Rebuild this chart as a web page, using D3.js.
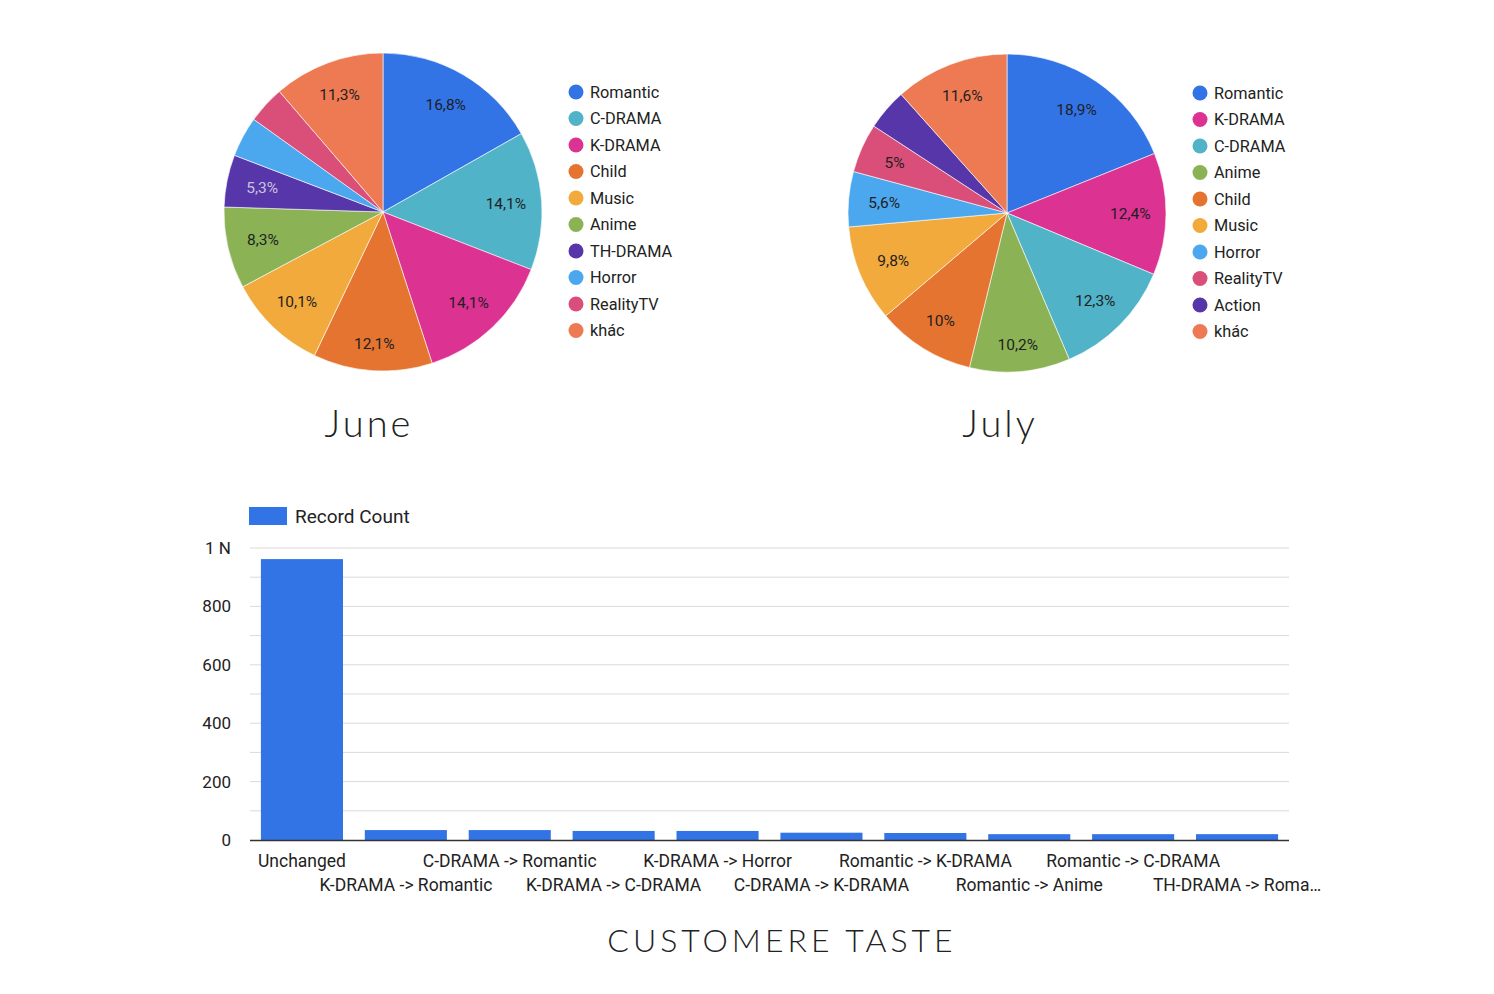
<!DOCTYPE html>
<html><head><meta charset="utf-8">
<script src="https://cdn.jsdelivr.net/npm/d3@7"></script>
<style>
body{margin:0;background:#fff;}
svg{display:block;font-family:Roboto,"Noto Sans",sans-serif;}
</style></head>
<body>
<svg id="c" width="1494" height="994"></svg>
<script>
// ---- Data ----
const juneCategories = ["Romantic","C-DRAMA","K-DRAMA","Child","Music","Anime","TH-DRAMA","Horror","RealityTV","khác"];
const juneValues     = [16.8, 14.1, 14.1, 12.1, 10.1, 8.3, 5.3, 4.1, 3.8, 11.3];
const julyCategories = ["Romantic","K-DRAMA","C-DRAMA","Anime","Child","Music","Horror","RealityTV","Action","khác"];
const julyValues     = [18.9, 12.4, 12.3, 10.2, 10, 9.8, 5.6, 5, 4.2, 11.6];
const changeCategories = ["Unchanged","K-DRAMA -> Romantic","C-DRAMA -> Romantic","K-DRAMA -> C-DRAMA","K-DRAMA -> Horror",
  "C-DRAMA -> K-DRAMA","Romantic -> K-DRAMA","Romantic -> Anime","Romantic -> C-DRAMA","TH-DRAMA -> Roma…"];
const changeValues = [962, 34, 34, 31, 31, 25, 24, 20, 20, 20];
const yTickValues = [0,100,200,300,400,500,600,700,800,900,1000];
const yTickLabels = {0:"0",200:"200",400:"400",600:"600",800:"800",1000:"1 N"};

const colorMap = {
  "Romantic":"#3273e6","C-DRAMA":"#50b3c7","K-DRAMA":"#dc3292","Child":"#e4742f","Music":"#f2aa3d",
  "Anime":"#8bb355","TH-DRAMA":"#5736a9","Action":"#5736a9","Horror":"#4ca8ee","RealityTV":"#d94f7a","khác":"#ee7a53"
};
const darkText = {"TH-DRAMA":true};

const svg = d3.select("#c");
const fmt = v => String(v).replace(".", ",") + "%";

function drawPie(cats, vals, cx, cy, r, legX, legY, title, titleX){
  const data = cats.map((c,i)=>({cat:c, value:vals[i]}));
  const pie = d3.pie().value(d=>d.value).sort(null);
  const arc = d3.arc().innerRadius(0).outerRadius(r);
  const g = svg.append("g").attr("transform",`translate(${cx},${cy})`);
  const arcs = pie(data);
  g.selectAll("path").data(arcs).join("path")
    .attr("d",arc).attr("fill",d=>colorMap[d.data.cat])
    .attr("stroke","#fff").attr("stroke-width",0.6);
  const labelPos = d => {
    const a = (d.startAngle + d.endAngle)/2;
    const c = Math.cos(a);
    const extra = c < 0 ? 9*Math.pow(-c,6) : 3*Math.pow(c,6);
    const rl = r*0.775 + extra;
    return [Math.sin(a)*rl, -Math.cos(a)*rl];
  };
  g.selectAll("text").data(arcs.filter(d=>d.data.value>=4.5)).join("text")
    .attr("transform",d=>`translate(${labelPos(d)})`)
    .attr("text-anchor","middle").attr("dy","0.35em")
    .attr("font-size",15.5)
    .attr("fill",d=>darkText[d.data.cat]?"#c9c4dd":"#1f1f1f")
    .text(d=>fmt(d.data.value));
  const lg = svg.append("g").attr("transform",`translate(${legX},${legY})`);
  const items = lg.selectAll("g").data(data).join("g")
    .attr("transform",(d,i)=>`translate(0,${i*26.5})`);
  items.append("circle").attr("r",7.5).attr("cx",0).attr("cy",0).attr("fill",d=>colorMap[d.cat]);
  items.append("text").attr("x",14).attr("dy","0.36em").attr("font-size",16.3).attr("fill","#222").text(d=>d.cat);
  svg.append("text").attr("x",titleX).attr("y",437).attr("text-anchor","middle")
    .attr("font-family","Lato,'Open Sans',sans-serif").attr("font-weight",300)
    .attr("font-size",38).attr("letter-spacing",3).attr("fill","#222").text(title);
}
drawPie(juneCategories, juneValues, 383, 212, 159, 576, 92, "June", 369);
drawPie(julyCategories, julyValues, 1007, 213, 159, 1200, 93, "July", 1000);

// ---- Bar chart ----
const x = d3.scaleBand().domain(changeCategories).range([250,1289]).paddingInner(0.21).paddingOuter(0.105);
const y = d3.scaleLinear().domain([0,1000]).range([840,548]);

const grid = svg.append("g");
grid.selectAll("line").data(yTickValues.filter(v=>v>0)).join("line")
  .attr("x1",250).attr("x2",1289).attr("y1",d=>y(d)).attr("y2",d=>y(d))
  .attr("stroke","#dadada").attr("stroke-width",1);

const yAxis = d3.axisLeft(y).tickValues(yTickValues.filter(v=>yTickLabels[v]!==undefined))
  .tickFormat(v=>yTickLabels[v]).tickSize(0).tickPadding(0);
const ya = svg.append("g").attr("transform","translate(231,0)").call(yAxis);
ya.select(".domain").remove();
ya.selectAll("text").attr("font-size",17).attr("fill","#222").attr("font-family","Roboto,sans-serif");

svg.append("g").selectAll("rect").data(changeCategories).join("rect")
  .attr("x",d=>x(d)).attr("width",x.bandwidth())
  .attr("y",(d,i)=>y(changeValues[i])).attr("height",(d,i)=>y(0)-y(changeValues[i]))
  .attr("fill","#3273e6");

svg.append("line").attr("x1",250).attr("x2",1289).attr("y1",840.5).attr("y2",840.5)
  .attr("stroke","#333").attr("stroke-width",1.5);

const xAxis = d3.axisBottom(x).tickSize(0).tickPadding(0);
const xa = svg.append("g").attr("transform","translate(0,840)").call(xAxis);
xa.select(".domain").remove();
xa.selectAll("text").attr("font-size",17.5).attr("fill","#222").attr("font-family","Roboto,sans-serif")
  .attr("dy",null).attr("y",(d,i)=>i%2===0?27:51);

// legend
svg.append("rect").attr("x",249).attr("y",507).attr("width",38).attr("height",18).attr("fill","#3273e6");
svg.append("text").attr("x",295).attr("y",516).attr("dy","0.36em").attr("font-size",19).attr("fill","#222").text("Record Count");

svg.append("text").attr("x",782).attr("y",952).attr("text-anchor","middle")
  .attr("font-family","Lato,'Open Sans',sans-serif").attr("font-weight",300)
  .attr("font-size",32).attr("letter-spacing",4).attr("fill","#222").text("CUSTOMERE TASTE");
</script>
</body></html>
